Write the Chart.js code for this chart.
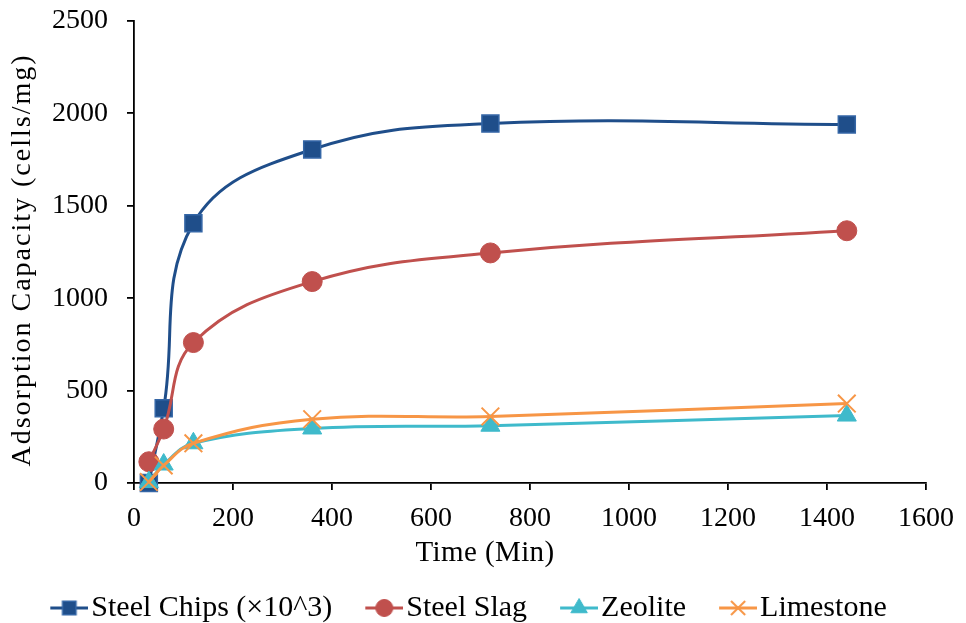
<!DOCTYPE html>
<html>
<head>
<meta charset="utf-8">
<script src="https://cdn.jsdelivr.net/npm/chart.js@4.4.1/dist/chart.umd.min.js"></script>
<style>
  html, body { margin: 0; padding: 0; background: #ffffff; }
  #wrap { width: 966px; height: 623px; position: relative; }
</style>
</head>
<body>
<div id="wrap"><canvas id="chart" width="966" height="623"></canvas></div>
<script>
// Contact time (min) at which adsorption capacity was measured
const times = [30, 60, 120, 360, 720, 1440];

// Adsorption capacity (cells/mg) per adsorbent
const steelChips = [0, 405, 1405, 1805, 1945, 1940];
const steelSlag  = [115, 292, 760, 1090, 1245, 1365];
const zeolite    = [5, 100, 215, 295, 310, 365];
const limestone  = [5, 95, 215, 345, 360, 430];

const seriesNames = ['Steel Chips (×10^3)', 'Steel Slag', 'Zeolite', 'Limestone'];

// Axis tick values
const xTicks = [0, 200, 400, 600, 800, 1000, 1200, 1400, 1600];
const yTicks = [0, 500, 1000, 1500, 2000, 2500];

const FONT = '"Liberation Serif", "Times New Roman", serif';

const styles = [
  { line: '#1F4E8A', fill: '#1F4E8A', border: '#3466A6', point: 'rect',     r: 12,   lr: 9.5, bw: 1.5 },
  { line: '#C0504D', fill: '#C0504D', border: '#C0504D', point: 'circle',   r: 10,   lr: 8.5, bw: 1 },
  { line: '#3FBACB', fill: '#3FBACB', border: '#3FBACB', point: 'triangle', r: 11,   lr: 9.5, bw: 1 },
  { line: '#F79646', fill: '#F79646', border: '#F79646', point: 'crossRot', r: 12.5, lr: 10,  bw: 2 }
];
const values = [steelChips, steelSlag, zeolite, limestone];

function toPoints(ys) {
  return times.map((t, i) => ({ x: t, y: ys[i] }));
}

// Legend key: a short line segment with the series marker on it
function legendKey(s) {
  const W = 81, H = 26;
  const c = document.createElement('canvas');
  c.width = W; c.height = H;
  const g = c.getContext('2d');
  const cy = H / 2, cx = W - 19;
  g.strokeStyle = s.line;
  g.lineWidth = 3;
  g.beginPath(); g.moveTo(W - 38, cy); g.lineTo(W, cy); g.stroke();
  g.fillStyle = s.fill;
  g.strokeStyle = s.border;
  g.lineWidth = s.bw;
  Chart.helpers.drawPoint(g, { pointStyle: s.point, radius: s.lr, borderWidth: s.bw, rotation: 0 }, cx, cy);
  return c;
}
const legendKeys = styles.map(legendKey);

const datasets = values.map((ys, i) => ({
  label: seriesNames[i],
  data: toPoints(ys),
  borderColor: styles[i].line,
  backgroundColor: styles[i].fill,
  borderWidth: 3,
  tension: 0.4,
  pointStyle: styles[i].point,
  pointRadius: styles[i].r,
  pointHoverRadius: styles[i].r,
  pointBackgroundColor: styles[i].fill,
  pointBorderColor: styles[i].border,
  pointBorderWidth: styles[i].bw,
  clip: false,
  order: values.length - i
}));

// Placement tweaks: axis title letter spacing / offsets and legend offset
function shiftDraw(obj, method, dx, dy, spacing) {
  if (!obj || obj['__shift_' + method]) return;
  const orig = obj[method];
  obj[method] = function (...args) {
    const ctx = this.ctx;
    ctx.save();
    if (spacing) ctx.letterSpacing = spacing;
    ctx.translate(dx, dy);
    orig.apply(this, args);
    ctx.restore();
  };
  obj['__shift_' + method] = true;
}
const placement = {
  id: 'placement',
  afterLayout(chart) {
    shiftDraw(chart.scales.y, 'drawTitle', 0, 8, '2px');
    shiftDraw(chart.scales.x, 'drawTitle', -45, 0, '0.4px');
    shiftDraw(chart.legend, 'draw', -12, 0, null);
  }
};

const plainTick = v => String(v);

new Chart(document.getElementById('chart'), {
  type: 'line',
  data: { datasets },
  plugins: [placement],
  options: {
    responsive: false,
    animation: false,
    devicePixelRatio: 1,
    layout: { padding: { top: 21, right: 36, bottom: -10, left: 0 } },
    plugins: {
      tooltip: { enabled: false },
      legend: {
        display: true,
        position: 'bottom',
        labels: {
          usePointStyle: true,
          pointStyleWidth: 57,
          padding: 2,
          color: '#000000',
          font: { family: FONT, size: 30 },
          generateLabels(chart) {
            return chart.data.datasets.map((ds, i) => ({
              text: ds.label,
              fillStyle: ds.backgroundColor,
              strokeStyle: ds.borderColor,
              lineWidth: 0,
              pointStyle: legendKeys[i],
              hidden: !chart.isDatasetVisible(i),
              datasetIndex: i,
              fontColor: '#000000'
            }));
          }
        }
      }
    },
    scales: {
      x: {
        type: 'linear',
        min: xTicks[0],
        max: xTicks[xTicks.length - 1],
        afterBuildTicks(scale) { scale.ticks = xTicks.map(v => ({ value: v })); },
        afterFit(scale) { scale.height = 108; },
        grid: { drawOnChartArea: false, drawTicks: true, tickLength: 7, color: '#000000', lineWidth: 1.8 },
        border: { display: true, color: '#000000', width: 1.8 },
        ticks: { color: '#000000', padding: 12, maxRotation: 0, callback: plainTick, font: { family: FONT, size: 28 } },
        title: {
          display: true,
          text: 'Time (Min)',
          color: '#000000',
          font: { family: FONT, size: 29 },
          padding: { top: 0, bottom: 20 }
        }
      },
      y: {
        type: 'linear',
        min: yTicks[0],
        max: yTicks[yTicks.length - 1],
        afterBuildTicks(scale) { scale.ticks = yTicks.map(v => ({ value: v })); },
        afterFit(scale) {
          scale.width = 134;
          scale.paddingTop = 0;
          scale.paddingBottom = 0;
        },
        grid: { drawOnChartArea: false, drawTicks: true, tickLength: 7, color: '#000000', lineWidth: 1.8 },
        border: { display: true, color: '#000000', width: 1.8 },
        ticks: { color: '#000000', padding: 19, callback: plainTick, font: { family: FONT, size: 28 } },
        title: {
          display: true,
          text: 'Adsorption Capacity (cells/mg)',
          color: '#000000',
          font: { family: FONT, size: 28 },
          padding: { top: 6, bottom: 0 }
        }
      }
    }
  }
});
</script>
</body>
</html>
